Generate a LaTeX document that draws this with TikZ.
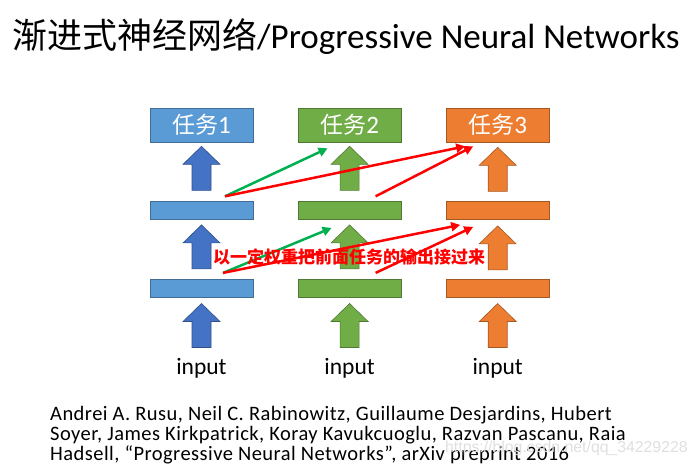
\documentclass[tikz,border=0pt]{standalone}
\usepackage{fontspec}
\setmainfont{Carlito}
\newfontfamily\cjk{Noto Sans CJK SC}
\newfontfamily\citefont[LetterSpace=2.2]{Carlito}
\newfontfamily\wmfont{Liberation Sans}
\usepackage{tikz}
\usetikzlibrary{calc, positioning, arrows.meta}
\usepackage{xcolor}
\definecolor{taskA}{RGB}{91, 155, 213}
\definecolor{arrowA}{RGB}{68, 114, 196}
\definecolor{taskB}{RGB}{112, 173, 71}
\definecolor{taskC}{RGB}{237, 125, 49}
\definecolor{linkG}{RGB}{0, 176, 80}
\definecolor{linkR}{RGB}{255, 0, 0}

% block arrow pointing up, #1 = tip, #2 = colour
\newcommand{\blockup}[2]{%
  \filldraw[fill=#2, draw=#2!70!black, line width=0.6pt]
    (#1) -- ++(18.5,-18) -- ++(-9,0) -- ++(0,-26) -- ++(-19,0)
    -- ++(0,26) -- ++(-9,0) -- cycle;}

\begin{document}
\begin{tikzpicture}[x=1pt, y=1pt, >=Stealth,
  task/.style={draw=#1!70!black, fill=#1, line width=0.6pt, minimum width=103pt,
    minimum height=34pt, inner sep=0pt, text=white},
  layer/.style={draw=#1!70!black, fill=#1, line width=0.6pt, minimum width=103pt,
    minimum height=18pt, inner sep=0pt},
  link/.style={line width=2.5pt, -{Triangle[length=9pt, width=9pt]}},
  inlabel/.style={anchor=base, inner sep=0pt, font=\fontsize{23.5}{28}\selectfont},
  citeline/.style={anchor=base west, inner sep=0pt, font=\citefont\fontsize{20.5}{22}\selectfont}]
  \useasboundingbox (0,0) rectangle (697,-467);

  % title
  \node[anchor=base west, inner sep=0pt, font=\fontsize{35}{40}\selectfont] (title)
    at (12,-48) {{\cjk\fontsize{35}{40}\selectfont 渐进式神经网络}/Progressive Neural Networks};

  % columns
  \node[task=taskA] (t1) at (201.5,-125) {{\cjk\fontsize{23}{26}\selectfont 任务}{\fontsize{25}{26}\selectfont 1}};
  \node[task=taskB, right=44.5pt of t1] (t2) {{\cjk\fontsize{23}{26}\selectfont 任务}{\fontsize{25}{26}\selectfont 2}};
  \node[task=taskC, right=44.5pt of t2] (t3) {{\cjk\fontsize{23}{26}\selectfont 任务}{\fontsize{25}{26}\selectfont 3}};

  \node[layer=taskA, below=59pt of t1] (u1) {};
  \node[layer=taskB, below=59pt of t2] (u2) {};
  \node[layer=taskC, below=59pt of t3] (u3) {};
  \node[layer=taskA, below=59pt of u1] (l1) {};
  \node[layer=taskB, below=59pt of u2] (l2) {};
  \node[layer=taskC, below=59pt of u3] (l3) {};

  \node[inlabel] (in1) at ($(l1.south)+(0,-77)$) {input};
  \node[inlabel] (in2) at ($(l2.south)+(0,-77)$) {input};
  \node[inlabel] (in3) at ($(l3.south)+(0,-77)$) {input};

  % up arrows
  \blockup{$(t1.south)+(0,-4)$}{arrowA}
  \blockup{$(u1.south)+(0,-5)$}{arrowA}
  \blockup{$(l1.south)+(0,-6)$}{arrowA}
  \blockup{$(t2.south)+(0,-4)$}{taskB}
  \blockup{$(u2.south)+(0,-5)$}{taskB}
  \blockup{$(l2.south)+(0,-6)$}{taskB}
  \blockup{$(t3.south)+(0,-5)$}{taskC}
  \blockup{$(u3.south)+(0,-6)$}{taskC}
  \blockup{$(l3.south)+(0,-6)$}{taskC}

  % lateral connections
  \coordinate (su1) at ($(u1.north)+(23.5,5)$);
  \coordinate (su2) at ($(u2.north)+(26,5)$);
  \coordinate (sl1) at ($(l1.north)+(21.5,6)$);
  \coordinate (sl2) at ($(l2.north)+(26,6)$);
  \coordinate (et2) at ($(t2.south)+(-22,-6)$);
  \coordinate (et3a) at ($(t3.south)+(-32.5,-4)$);
  \coordinate (et3b) at ($(t3.south)+(-24.5,-4)$);
  \coordinate (eu2) at ($(u2.south)+(-18,-8)$);
  \coordinate (eu3a) at ($(u3.south)+(-37.5,-5)$);
  \coordinate (eu3b) at ($(u3.south)+(-24.5,-7)$);

  \draw[link, linkG] (su1) -- (et2);
  \draw[link, linkR] (su1) -- (et3a);
  \draw[link, linkR] (su2) -- (et3b);
  \draw[link, linkG] (sl1) -- (eu2);
  \draw[link, linkR] (sl1) -- (eu3a);
  \draw[link, linkR] (sl2) -- (eu3b);

  \node[text=linkR, inner sep=0pt, font=\cjk\bfseries\fontsize{17}{20}\selectfont] (note)
    at (349,-256.5) {以一定权重把前面任务的输出接过来};

  % reference
  \node[citeline] (cite1) at (50,-420)
    {Andrei A. Rusu, Neil C. Rabinowitz, Guillaume Desjardins, Hubert};
  \node[citeline] (cite2) at (50,-440)
    {Soyer, James Kirkpatrick, Koray Kavukcuoglu, Razvan Pascanu, Raia};
  \node[citeline] (cite3) at (50,-460)
    {Hadsell, “Progressive Neural Networks”, arXiv preprint 2016};
  \node[anchor=base west, inner sep=0pt, text=gray!25, font=\wmfont\fontsize{15.8}{18}\selectfont] (wm)
    at (445,-452) {https://blog.csdn.net/qq\_34229228};
\end{tikzpicture}
\end{document}
